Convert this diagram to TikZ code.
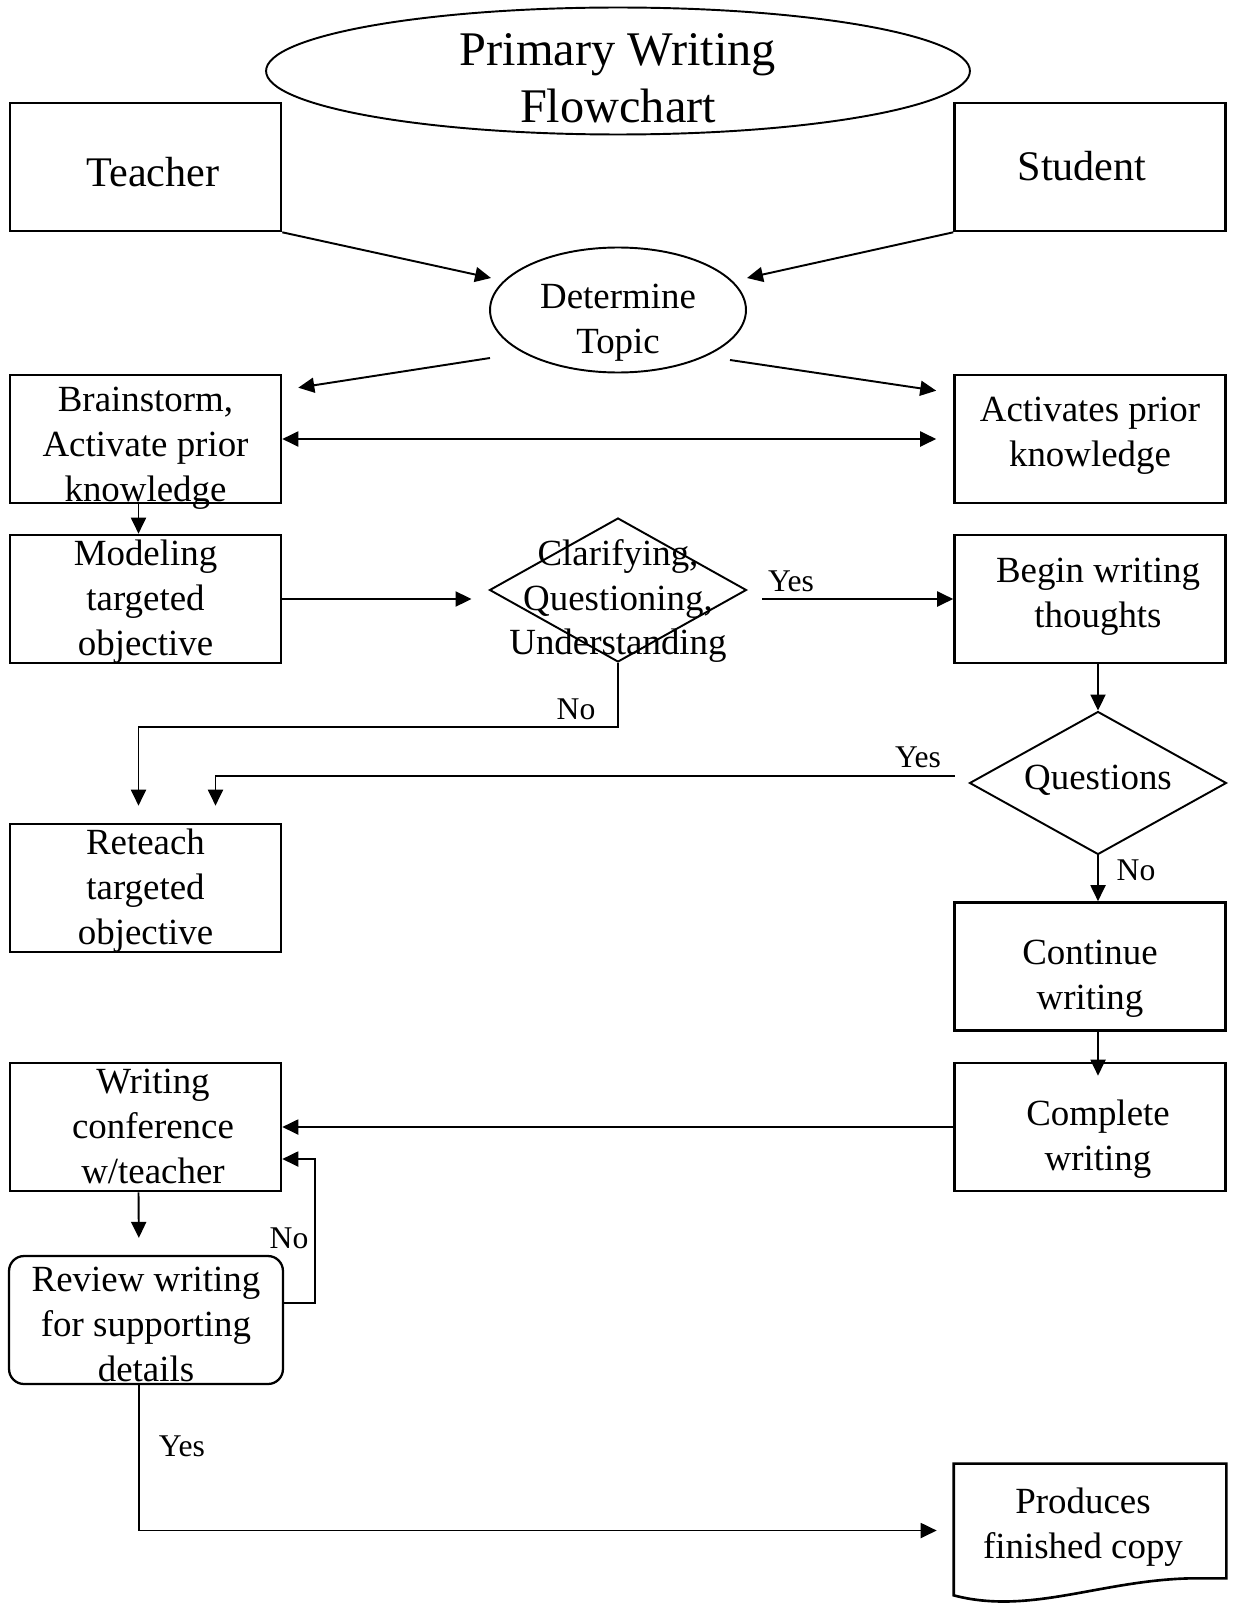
\documentclass[tikz,border=0pt]{standalone}
\usepackage{fontspec}
\setmainfont{Liberation Serif}
\usetikzlibrary{arrows.meta,calc,shapes.geometric}

\tikzset{
  box/.style={draw, line width=1.5pt, minimum width=5.42cm, minimum height=2.56cm, inner sep=0pt},
  oval/.style={ellipse, draw, line width=1.1pt, inner sep=0pt},
  decision/.style={diamond, draw, line width=1.1pt, minimum width=5.14cm,
    minimum height=2.88cm, inner sep=0pt},
  words/.style={align=center, inner sep=0pt, font=\fontsize{21}{25.6}\selectfont},
  bigwords/.style={words, font=\fontsize{24}{29}\selectfont},
  lbl/.style={inner sep=0pt, font=\fontsize{18}{21}\selectfont},
  arr/.style={line width=1.1pt, ->},
  gap/.style={shorten >=0.34cm}
}

\begin{document}
\begin{tikzpicture}[x=0.02cm, y=-0.02cm, >={Triangle[length=0.32cm,width=0.3cm]}]
\useasboundingbox (0,0) rectangle (1236,1605);
% title
\node[oval, minimum width=14.08cm, minimum height=2.54cm] (title) at (618,71) {};
\node[words, font=\fontsize{27.5}{32.6}\selectfont] (titletext) at (618,78) {Primary Writing\\Flowchart};
% top row
\node[box] (teacher) at (145.5,167) {};
\node[bigwords] (teachertext) at (153,172) {Teacher};
\node[box] (student) at (1090,167) {};
\node[bigwords] (studenttext) at (1082,166) {Student};
\node[oval, minimum width=5.12cm, minimum height=2.5cm] (topic) at (618,310) {};
\node[words] (topictext) at (618,323) {Determine\\Topic};
% left column
\node[box] (brain) at (145.5,439) {};
\node[words] (braintext) at (145.5,448) {Brainstorm,\\Activate prior\\knowledge};
\node[box] (model) at (145.5,599) {};
\node[words] (modeltext) at (145.5,602) {Modeling\\targeted\\objective};
\node[box] (reteach) at (145.5,888) {};
\node[words] (reteachtext) at (145.5,891) {Reteach\\targeted\\objective};
\node[box] (conf) at (145.5,1127) {};
\node[words] (conftext) at (153,1126) {Writing\\conference\\w/teacher};
\node[box, line width=1.3pt, rounded corners=0.3cm, minimum width=5.48cm] (review) at (146,1320) {};
\node[words] (reviewtext) at (146,1324) {Review writing\\for supporting\\details};
% middle
\node[decision] (clar) at (618,590) {};
\node[words] (clartext) at (618,601) {Clarifying,\\Questioning,\\Understanding};
% right column
\node[box] (activ) at (1090,439) {};
\node[words] (activtext) at (1090,436) {Activates prior\\knowledge};
\node[box] (begin) at (1090,599) {};
\node[words] (begintext) at (1098,597) {Begin writing\\thoughts};
\node[decision, minimum height=2.86cm] (quest) at (1098,783) {};
\node[words] (questtext) at (1098,780) {Questions};
\node[box] (cont) at (1090,966.5) {};
\node[words] (conttext) at (1090,979) {Continue\\writing};
\node[box] (compl) at (1090,1127) {};
\node[words] (compltext) at (1098,1139) {Complete\\writing};
% finished copy (document shape)
\node[minimum width=5.44cm, minimum height=2.66cm, inner sep=0pt] (prod) at (1090,1530.5) {};
\node[words] (prodtext) at (1083,1527) {Produces\\finished copy};
\draw[line width=1.5pt] ($(prod.south east)+(0,-19)$) -- (prod.north east) -- (prod.north west)
  -- ($(prod.south west)+(0,-2)$) .. controls ($(prod.south west)+(76,18)$) and ($(prod.south east)+(-126,-17)$)
  .. ($(prod.south east)+(-36,-19)$) -- cycle;
% connectors
\draw[arr] (teacher.south east) -- ($(topic.center)+(-127,-32)$);
\draw[arr] (student.south west) -- ($(topic.center)+(129,-32)$);
\draw[arr] ($(topic.center)+(-128,48)$) -- ($(brain.north east)+(16,14)$);
\draw[arr] ($(topic.center)+(112,50)$) -- ($(activ.north west)+(-17,17)$);
\draw[arr, <->, gap] (brain.east) -- (activ.west);
\draw[arr] ($(brain.south)+(-7,0)$) -- ($(model.north)+(-7,0)$);
\draw[arr, gap] (model.east) -- (model.east -| clar.west);
\draw[arr] ($(clar.east)+(15,9)$) -- (begin.west);
\draw[arr, gap] (clar.south) -- ++(0,64) -| ($(reteach.north)+(-7,0)$);
\draw[arr] (begin.south -| quest.north) -- (quest.north);
\draw[arr, gap] ($(quest.west)+(-14,-7)$) -| ($(reteach.north)+(70,0)$);
\draw[arr] (quest.south) -- (quest.south |- cont.north);
\draw[arr] (cont.south -| quest.south) -- ($(compl.north -| quest.south)+(0,14)$);
\draw[arr] (compl.west) -- (conf.east);
\draw[arr, gap] ($(conf.south)+(-7,0)$) -- ($(review.north)+(-7,0)$);
\draw[arr] ($(review.east)+(0,-17)$) -- ++(31,0) |- ($(conf.east)+(0,32)$);
\draw[arr, gap] ($(review.south)+(-7,0)$) |- (prod.west);
% labels
\node[lbl] (yesa) at (791,581) {Yes};
\node[lbl] (noa) at (576,709) {No};
\node[lbl] (yesb) at (918,757) {Yes};
\node[lbl] (nob) at (1136,870) {No};
\node[lbl] (noc) at (289,1238) {No};
\node[lbl] (yesc) at (182,1446) {Yes};
\end{tikzpicture}
\end{document}
